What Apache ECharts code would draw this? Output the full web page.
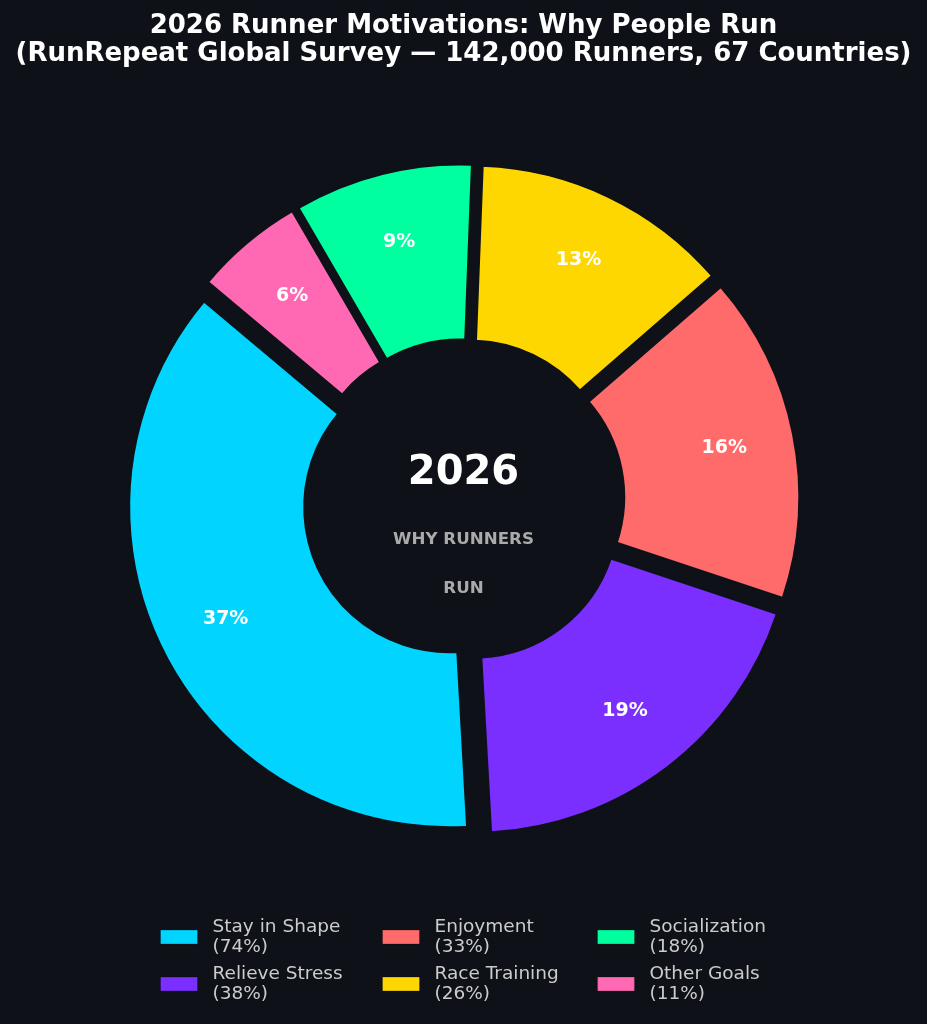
<!DOCTYPE html>
<html>
<head>
<meta charset="utf-8">
<script src="https://cdn.jsdelivr.net/npm/echarts@6/dist/echarts.min.js"></script>
<style>
html,body{margin:0;padding:0;background:#0e1117;}
#chart{width:927px;height:1024px;}
</style>
</head>
<body>
<div id="chart"></div>
<script>
var categories = ['Stay in Shape', 'Relieve Stress', 'Enjoyment', 'Race Training', 'Socialization', 'Other Goals'];
var values = [74, 38, 33, 26, 18, 11];
var colors = ['#00d4ff', '#7b2fff', '#ff6b6b', '#ffd700', '#00ff9f', '#ff69b4'];
var titleText = '2026 Runner Motivations: Why People Run\n(RunRepeat Global Survey \u2014 142,000 Runners, 67 Countries)';
var centerTitle = '2026';
var centerSub1 = 'WHY RUNNERS';
var centerSub2 = 'RUN';
var legendColumns = [[0, 1], [2, 3], [4, 5]];

var bg = '#0e1117';
var font = 'DejaVu Sans';
var total = values.reduce(function (a, b) { return a + b; }, 0);

function pctLabel(v) {
  var p = v / total * 100;
  // round half to even like Python formatting
  var f = Math.floor(p), d = p - f;
  var r;
  if (Math.abs(d - 0.5) < 1e-9) r = (f % 2 === 0) ? f : f + 1; else r = Math.round(p);
  return r + '%';
}

var mainData = categories.map(function (c, i) {
  return { name: c, value: values[i], selected: true, itemStyle: { color: colors[i] } };
});
var labelData = categories.map(function (c, i) {
  return { name: c, value: values[i], selected: true, itemStyle: { color: 'rgba(0,0,0,0)' } };
});

var legendLefts = [155, 377, 592];
var legends = legendColumns.map(function (col, k) {
  return {
    orient: 'vertical',
    left: legendLefts[k],
    top: 912,
    itemGap: 7,
    itemWidth: 37,
    itemHeight: 14,
    icon: 'rect',
    selectedMode: false,
    data: col.map(function (i) { return { name: categories[i], itemStyle: { color: colors[i], borderColor: 'rgba(0,0,0,0.25)', borderWidth: 1 } }; }),
    formatter: function (name) {
      var i = categories.indexOf(name);
      return name + '\n(' + values[i] + '%)';
    },
    textStyle: { color: '#cccccc', fontSize: 18.5, lineHeight: 20, fontFamily: font, padding: [0, 0, 0, 10] }
  };
});

var common = {
  type: 'pie',
  center: [463.5, 500],
  startAngle: 140,
  clockwise: false,
  selectedMode: 'multiple',
  selectedOffset: 16,
  avoidLabelOverlap: false,
  animation: false,
  emphasis: { disabled: true },
  labelLine: { show: false }
};

var option = {
  backgroundColor: bg,
  animation: false,
  title: {
    text: titleText,
    left: 'center',
    top: 7,
    textStyle: { color: '#ffffff', fontSize: 26, fontWeight: 'bold', lineHeight: 28, fontFamily: font }
  },
  legend: legends,
  series: [
    Object.assign({}, common, {
      name: 'main',
      radius: [145, 320],
      itemStyle: { borderColor: bg, borderWidth: 2 },
      label: { show: false },
      data: mainData
    }),
    Object.assign({}, common, {
      name: 'labels',
      radius: [174, 320],
      silent: true,
      itemStyle: { borderWidth: 0 },
      label: {
        show: true,
        position: 'inside',
        color: '#ffffff',
        fontSize: 19,
        fontWeight: 'bold',
        fontFamily: font,
        padding: [4, 0, 0, 0],
        formatter: function (p) { return pctLabel(p.value); }
      },
      data: labelData
    })
  ],
  graphic: [
    { type: 'text', x: 463.5, y: 474, style: { text: centerTitle, fill: '#ffffff', font: 'bold 40px "DejaVu Sans"', textAlign: 'center', textVerticalAlign: 'middle' } },
    { type: 'text', x: 463.5, y: 540, style: { text: centerSub1, fill: '#aaaaaa', font: 'bold 16.7px "DejaVu Sans"', textAlign: 'center', textVerticalAlign: 'middle' } },
    { type: 'text', x: 463.5, y: 589, style: { text: centerSub2, fill: '#aaaaaa', font: 'bold 16.7px "DejaVu Sans"', textAlign: 'center', textVerticalAlign: 'middle' } }
  ]
};

var chart = echarts.init(document.getElementById('chart'), null, { renderer: 'canvas' });
chart.setOption(option);
</script>
</body>
</html>
